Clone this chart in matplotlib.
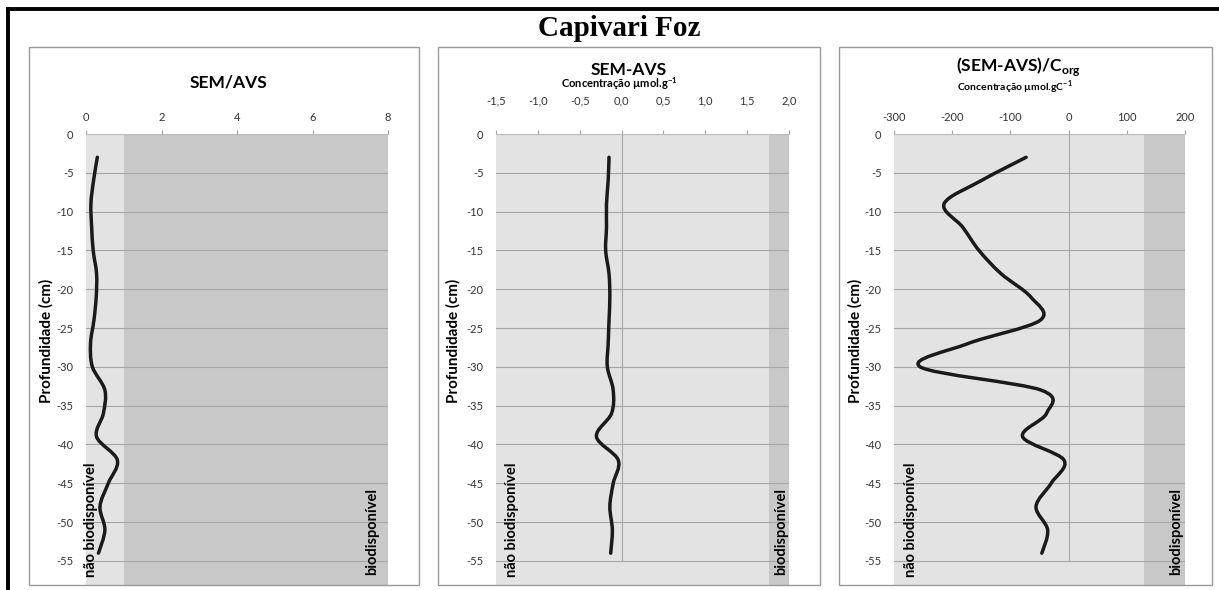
import numpy as np
import matplotlib
matplotlib.use("Agg")
import matplotlib.pyplot as plt
from matplotlib.path import Path
from matplotlib.patches import PathPatch, Rectangle
from matplotlib.lines import Line2D
from matplotlib.ticker import FuncFormatter

plt.rcParams['font.family'] = ['Lato', 'DejaVu Sans']
plt.rcParams['axes.unicode_minus'] = False
plt.rcParams['mathtext.fontset'] = 'custom'
plt.rcParams['mathtext.rm'] = 'Lato'
plt.rcParams['mathtext.bf'] = 'Lato:bold'

# Perfil do testemunho (profundidade em cm)
profundidade = [-3, -6, -9, -12, -15, -18, -21, -24, -27, -30,
                -33, -36, -39, -42, -45, -48, -51, -54]

sem_avs_razao = [0.30, 0.20, 0.13, 0.15, 0.19, 0.28, 0.27, 0.21, 0.12, 0.17,
                 0.50, 0.46, 0.28, 0.83, 0.59, 0.37, 0.50, 0.33]

sem_menos_avs = [-0.15, -0.16, -0.18, -0.18, -0.19, -0.15, -0.14, -0.15, -0.16, -0.17,
                 -0.10, -0.12, -0.30, -0.04, -0.10, -0.14, -0.11, -0.13]

sem_avs_corg = [-73, -150, -214, -182, -154, -116, -65, -49, -173, -255,
                -47, -38, -79, -8, -30, -56, -36, -46]

# limites de biodisponibilidade
lim_razao = 1.0
lim_diferenca = 1.76
lim_corg = 130

W, H = 1219, 590

fig = plt.figure(figsize=(W / 100, H / 100), dpi=100)


def fx(x):
    return x / W


def fy(y):
    return 1 - y / H


def curva_suave(xs, ys):
    # spline do tipo Catmull-Rom (linha suavizada do Excel)
    pts = np.column_stack([xs, ys]).astype(float)
    ext = np.vstack([pts[0], pts, pts[-1]])
    verts = [pts[0]]
    codes = [Path.MOVETO]
    for i in range(len(pts) - 1):
        p0, p1, p2, p3 = ext[i], ext[i + 1], ext[i + 2], ext[i + 3]
        verts += [p1 + (p2 - p0) / 6, p2 - (p3 - p1) / 6, p2]
        codes += [Path.CURVE4] * 3
    return Path(verts, codes)


def painel(left, right, xmin, xmax, xticks, limite, valores, fmt,
           x_nao, x_bio, eixo_zero, pad_x):
    ax = fig.add_axes([fx(left), fy(585), fx(right - left), (585 - 134) / H])
    ax.set_xlim(xmin, xmax)
    ax.set_ylim(-58.1, 0)
    ax.axvspan(xmin, limite, color='#e3e3e3', zorder=0, lw=0)
    ax.axvspan(limite, xmax, color='#c8c8c8', zorder=0, lw=0)
    ax.set_facecolor('white')

    ax.set_yticks(np.arange(0, -56, -5))
    ax.set_xticks(xticks)
    ax.xaxis.set_major_formatter(FuncFormatter(fmt))
    ax.yaxis.set_major_formatter(FuncFormatter(lambda v, p: '%d' % v))
    ax.xaxis.tick_top()
    ax.tick_params(axis='x', direction='out', length=3, width=0.8,
                   color='#a0a0a0', labelsize=8, labelcolor='#333333', pad=pad_x)
    ax.tick_params(axis='y', length=0, labelsize=8, labelcolor='#333333', pad=9)
    ax.grid(axis='y', color='#a6a6a6', lw=0.8, zorder=1)
    ax.set_axisbelow(True)
    for s in ['bottom', 'left', 'right']:
        ax.spines[s].set_visible(False)
    ax.spines['top'].set_color('#bdbdbd')
    ax.spines['top'].set_linewidth(0.8)

    if eixo_zero:
        ax.vlines(0, -55, 0, color='#a6a6a6', lw=0.8, zorder=2)

    ax.add_patch(PathPatch(curva_suave(valores, profundidade), fill=False,
                           lw=2.5, ec='#1a1a1a', capstyle='round',
                           joinstyle='round', zorder=5))

    ax.text(x_nao, -57.1, 'não biodisponível', rotation=90, ha='center',
            va='bottom', fontsize=10.5, fontweight='bold', zorder=6)
    ax.text(x_bio, -56.8, 'biodisponível', rotation=90, ha='center',
            va='bottom', fontsize=10.5, fontweight='bold', zorder=6)
    return ax


def virgula(v, p):
    return ('%.1f' % v).replace('.', ',')


ax1 = painel(86, 388, 0, 8, [0, 2, 4, 6, 8], lim_razao, sem_avs_razao,
             lambda v, p: '%d' % v, 0.13, 7.58, False, 5)
ax2 = painel(496, 789, -1.5, 2.0, np.arange(-1.5, 2.01, 0.5), lim_diferenca,
             sem_menos_avs, virgula, -1.31, 1.91, True, 17)
ax3 = painel(894, 1185, -300, 200, [-300, -200, -100, 0, 100, 200], lim_corg,
             sem_avs_corg, lambda v, p: '%d' % v, -271, 184, True, 5)

# molduras dos graficos
for l, r in [(29, 419), (438, 820), (839, 1212)]:
    fig.add_artist(Rectangle((fx(l), fy(585)), fx(r - l), (585 - 47) / H,
                             fill=False, ec='#9a9a9a', lw=1.0))

fig.add_artist(Line2D([fx(8), fx(8)], [fy(9), 0], color='black', lw=2.8))
fig.add_artist(Line2D([fx(8), 1], [fy(9), fy(9)], color='black', lw=2.8))

fig.text(fx(619), fy(29), 'Capivari Foz', ha='center', va='center',
         family='Liberation Serif', fontweight='bold', fontsize=21)

fig.text(fx(229), fy(87), 'SEM/AVS', ha='center', va='baseline',
         fontsize=12.5, fontweight='bold')
fig.text(fx(629), fy(75), 'SEM-AVS', ha='center', va='baseline',
         fontsize=12.5, fontweight='bold')
fig.text(fx(619), fy(88), r'Concentração µmol.g$^{\mathbf{-1}}$', ha='center',
         va='baseline', fontsize=8, fontweight='bold')
fig.text(fx(1019), fy(71), r'(SEM-AVS)/C$_{\mathbf{org}}$', ha='center',
         va='baseline', fontsize=12.5, fontweight='bold')
fig.text(fx(1015), fy(91), r'Concentração µmol.gC$^{\mathbf{-1}}$', ha='center',
         va='baseline', fontsize=7.5, fontweight='bold')

for x in [46, 453, 855]:
    fig.text(fx(x), fy(341), 'Profundidade (cm)', rotation=90, ha='center',
             va='center', fontsize=11, fontweight='bold')

fig.savefig('out.png', dpi=100)
